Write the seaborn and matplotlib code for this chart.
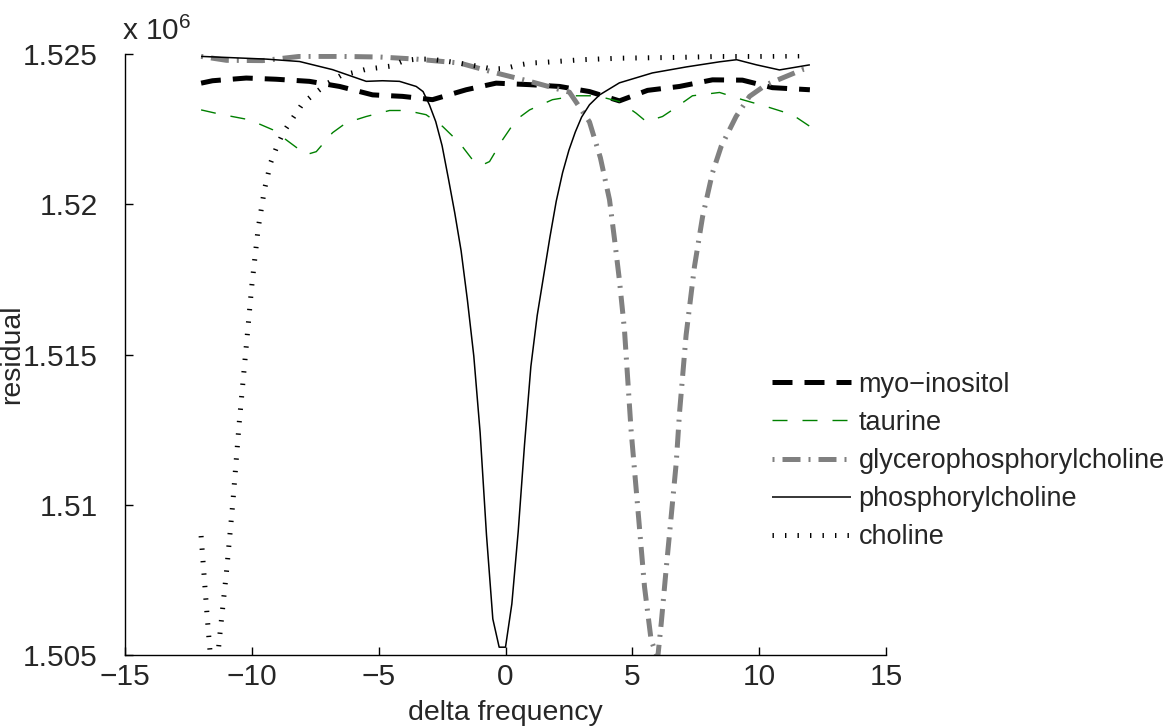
import matplotlib
matplotlib.use("Agg")
import matplotlib.pyplot as plt
import seaborn as sns
import pandas as pd
from matplotlib.ticker import FuncFormatter

# ---------------- data ----------------
x_myo = [-12.0, -11.55, -10.22, -9.04, -7.73, -6.54, -5.24, -4.06, -2.88, -1.55, -0.37, 0.95,
         2.13, 3.31, 4.49, 5.60, 6.86, 8.16, 9.34, 10.52, 12.0]
y_myo = [1524030, 1524110, 1524200, 1524160, 1524090, 1523920, 1523640, 1523590, 1523480, 1523810,
         1524030, 1523980, 1523920, 1523750, 1523440, 1523790, 1523920, 1524140, 1524130, 1523880,
         1523810]

x_tau = [-12.0, -11.27, -10.09, -9.18, -8.64, -7.86, -7.46, -6.82, -6.28, -5.49, -4.57, -3.91,
         -3.13, -2.48, -1.81, -1.30, -0.91, -0.63, -0.12, 0.42, 0.95, 1.85, 2.79, 3.58, 4.49,
         5.15, 5.55, 6.19, 6.58, 7.37, 8.44, 9.34, 10.29, 11.31, 12.0]
y_tau = [1523140, 1523000, 1522810, 1522480, 1522140, 1521650, 1521750, 1522380, 1522710, 1522920,
         1523120, 1523120, 1522980, 1522590, 1522040, 1521480, 1521310, 1521420, 1522140, 1522810,
         1523140, 1523480, 1523610, 1523610, 1523420, 1523030, 1522750, 1522920, 1523140, 1523610,
         1523720, 1523480, 1523250, 1522980, 1522590]

x_gpc = [-12.0, -11.0, -9.58, -8.12, -6.48, -4.97, -3.52, -1.81, -0.47, 0.95, 2.52, 3.31, 3.74,
         4.10, 4.30, 4.49, 4.69, 4.95, 5.21, 5.48, 5.74, 6.0, 6.14, 6.33, 6.53, 6.73, 6.86, 7.12,
         7.45, 7.77, 8.16, 8.50, 9.09, 9.62, 10.28, 11.71, 12.0]
y_gpc = [1524920, 1524790, 1524780, 1524920, 1524920, 1524900, 1524830, 1524700, 1524390, 1524090,
         1523730, 1522740, 1521550, 1520150, 1518820, 1517480, 1515820, 1512490, 1509940, 1507270,
         1505500, 1504900, 1506060, 1507830, 1509600, 1511390, 1513060, 1515650, 1517930, 1519590,
         1521050, 1521920, 1522920, 1523590, 1523980, 1524480, 1524530]

x_pc = [-12.0, -9.43, -8.12, -6.82, -5.49, -4.85, -4.18, -3.52, -3.25, -3.0, -2.75, -2.5, -2.25,
        -2.0, -1.75, -1.5, -1.25, -1.0, -0.75, -0.5, -0.25, 0.0, 0.25, 0.5, 0.75, 1.0, 1.25,
        1.5, 1.75, 2.0, 2.25, 2.5, 2.75, 3.0, 3.31, 3.71, 4.49, 5.79, 7.13, 8.44, 9.11, 9.89,
        10.80, 12.0]
y_pc = [1524920, 1524830, 1524750, 1524480, 1524090, 1524110, 1524090, 1523920, 1523750, 1523310,
        1522750, 1521950, 1520850, 1519710, 1518450, 1516800, 1514950, 1512400, 1509000, 1506200,
        1505260, 1505260, 1506700, 1509100, 1512000, 1514600, 1516300, 1517600, 1518900, 1520100,
        1521050, 1521800, 1522400, 1522900, 1523310, 1523640, 1524040, 1524370, 1524570, 1524740,
        1524810, 1524640, 1524470, 1524640]

x_cho = [-12.0, -11.75, -11.5, -11.25, -11.0, -10.75, -10.5, -10.25, -10.0, -9.75, -9.5, -9.25,
         -9.0, -8.75, -8.5, -8.0, -7.5, -7.0, -6.5, -6.0, -5.5, -4.5, -4.0, -3.5, -3.0, -2.5,
         -2.0, -1.5, -1.0, -0.5, 0.0, 0.5, 1.0, 1.5, 2.5, 3.0, 4.5, 7.0, 8.5, 10.0, 12.0]
y_cho = [1508960, 1506170, 1503600, 1505760, 1507760, 1510060, 1512700, 1515000, 1517300, 1519200,
         1520500, 1521400, 1521950, 1522400, 1522720, 1523350, 1523700, 1524030, 1524280, 1524380,
         1524490, 1524600, 1524780, 1524830, 1524830, 1524780, 1524720, 1524650, 1524580, 1524500,
         1524520, 1524630, 1524700, 1524720, 1524780, 1524810, 1524860, 1524890, 1524920, 1524920,
         1524940]

labels = ["myo\u2212inositol", "taurine", "glycerophosphorylcholine", "phosphorylcholine", "choline"]
x_ticks = [-15, -10, -5, 0, 5, 10, 15]
y_ticks = [1505000, 1510000, 1515000, 1520000, 1525000]

# ---------------- style ----------------
sns.set_style("ticks")
plt.rcParams["font.family"] = ["Liberation Sans", "DejaVu Sans"]
plt.rcParams["mathtext.fontset"] = "custom"
plt.rcParams["mathtext.rm"] = "Liberation Sans"
plt.rcParams["mathtext.it"] = "Liberation Sans"
plt.rcParams["lines.scale_dashes"] = False
plt.rcParams["xtick.direction"] = "in"
plt.rcParams["ytick.direction"] = "in"

PX = 0.72  # points per pixel at dpi 100
FS_TICK = 21.5
FS_LAB = 20.5
FS_LEG = 19.5

fig = plt.figure(figsize=(11.67, 7.27), dpi=100)
ax = fig.add_axes([125 / 1167, 72 / 727, 761 / 1167, 601 / 727])

series = [
    (x_myo, y_myo, labels[0], dict(color="black", linewidth=5 * PX,
                                   linestyle=(0, (20 * PX, 12 * PX)))),
    (x_tau, y_tau, labels[1], dict(color="#008000", linewidth=1.0,
                                   linestyle=(0, (15 * PX, 15 * PX)))),
    (x_gpc, y_gpc, labels[2], dict(color="#808080", linewidth=5 * PX,
                                   linestyle=(26 * PX, (18 * PX, 8 * PX, 2 * PX, 8 * PX)))),
    (x_pc, y_pc, labels[3], dict(color="black", linewidth=1.1, linestyle="-")),
    (x_cho, y_cho, labels[4], dict(color="black", linewidth=5 * PX,
                                   linestyle=(0, (1.4 * PX, 11.1 * PX)))),
]

for xs, ys, lab, kw in series:
    df = pd.DataFrame({"x": xs, "y": ys})
    sns.lineplot(data=df, x="x", y="y", ax=ax, label=lab, errorbar=None,
                 dash_capstyle="butt", solid_capstyle="butt", **kw)

ax.set_xlim(-15, 15)
ax.set_ylim(1505000, 1525000)
ax.set_xticks(x_ticks)
ax.set_yticks(y_ticks)
ax.yaxis.set_major_formatter(FuncFormatter(lambda v, p: f"{v / 1e6:g}"))
ax.xaxis.set_major_formatter(FuncFormatter(lambda v, p: f"{v:g}".replace("-", "\u2212")))
ax.tick_params(axis="both", labelsize=FS_TICK, length=7.7 * PX, width=1.0, color="black",
               top=False, right=False)
ax.tick_params(axis="y", pad=19.5)
ax.tick_params(axis="x", pad=6)
for s in ["top", "right"]:
    ax.spines[s].set_visible(False)
for s in ["left", "bottom"]:
    ax.spines[s].set_linewidth(1.0)
    ax.spines[s].set_color("black")

ax.set_xlabel("delta frequency", fontsize=FS_LAB, va="baseline")
ax.set_ylabel("residual", fontsize=FS_LAB, va="bottom")
ax.xaxis.set_label_coords(0.5, -(720 - 655) / 601)
ax.yaxis.set_label_coords(-(125 - 25) / 761, 0.5)
ax.text(-0.004, 1.014, r"x 10$^{6}$", transform=ax.transAxes, fontsize=FS_TICK,
        ha="left", va="bottom")

leg = ax.legend(loc="center left", bbox_to_anchor=(772 / 1167, 1 - 461 / 727),
                bbox_transform=fig.transFigure, frameon=False, fontsize=FS_LEG,
                handlelength=2.9, handletextpad=0.3, labelspacing=0.45, borderpad=0,
                borderaxespad=0)

fig.savefig("out.png", dpi=100, facecolor="white")
